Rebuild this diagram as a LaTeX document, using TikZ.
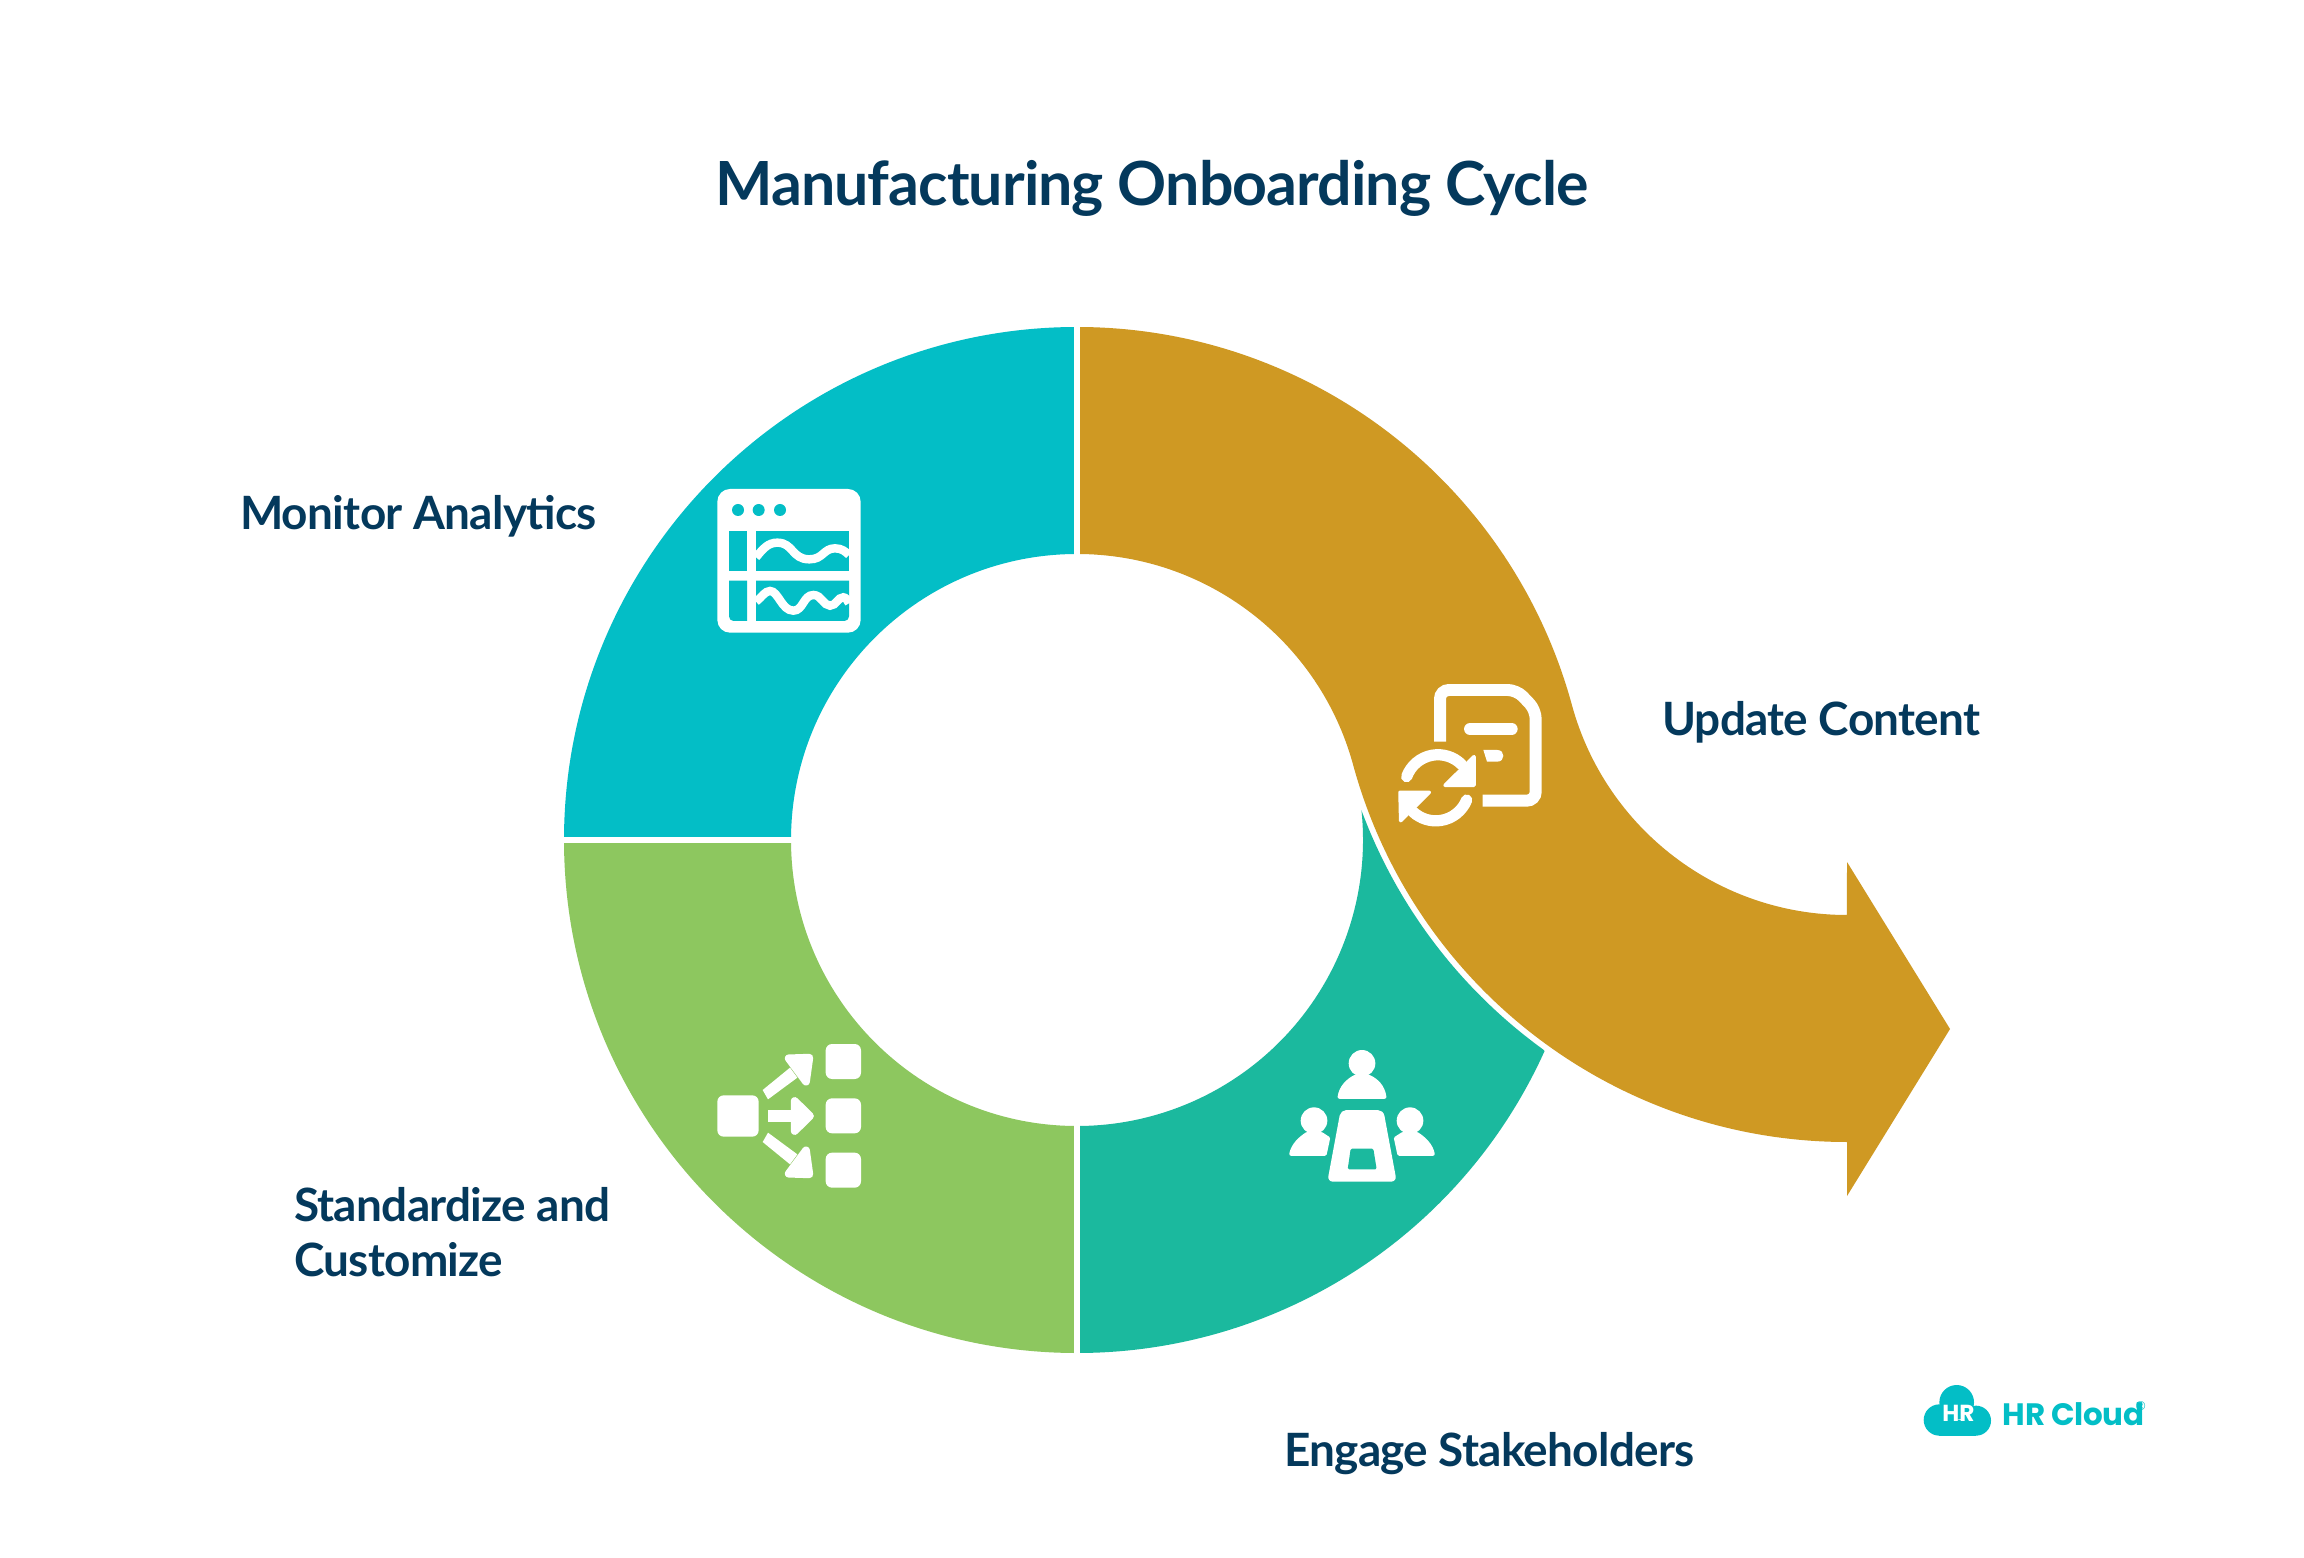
\documentclass[tikz,border=0pt]{standalone}
\usepackage{fontspec}
\setmainfont{Lato}
\newfontfamily\logofont{Poppins}
\usetikzlibrary{positioning}
\definecolor{cyanseg}{HTML}{03BEC6}
\definecolor{greenseg}{HTML}{8DC75F}
\definecolor{tealseg}{HTML}{1BB99E}
\definecolor{goldseg}{HTML}{CF9923}
\definecolor{inktext}{HTML}{04395C}

\begin{document}
\begin{tikzpicture}[
        x=0.01cm,y=0.01cm,
        every node/.style={inner sep=0pt,outer sep=0pt},
        seglabel/.style={anchor=base west,text=inktext,font=\fontsize{13.05}{15.4}\selectfont\bfseries\addfontfeature{LetterSpace=-1.5},align=left},
        segtitle/.style={anchor=base,text=inktext,font=\fontsize{17.3}{20}\selectfont\bfseries\addfontfeature{LetterSpace=-1.5}},
        gapline/.style={draw=white,line width=1.5pt},
        glyph/.style={fill=white,draw=white,line width=1pt,line join=round},
        tiphead/.style={fill=white,draw=white,line width=2.2pt,line join=round},
        glyphline/.style={draw=white,line width=2.4pt},
        glyphpos/.style={shift={#1},scale=1/3,yscale=-1}
        ]

        \fill[white] (0,0) rectangle (2304,1557);

        \coordinate (hub) at (1077,717);
        \coordinate (bend) at (1847,927);

        \node[segtitle] (title) at (1152,1351) {Manufacturing Onboarding Cycle};

        \fill[cyanseg]  ([shift={(90:513)}]hub) arc[start angle=90,end angle=180,radius=513]
        -- ([shift={(180:286)}]hub) arc[start angle=180,end angle=90,radius=286] -- cycle;
        \fill[greenseg] ([shift={(180:513)}]hub) arc[start angle=180,end angle=270,radius=513]
        -- ([shift={(270:286)}]hub) arc[start angle=270,end angle=180,radius=286] -- cycle;
        \fill[tealseg]  ([shift={(270:286)}]hub) arc[start angle=270,end angle=366,radius=286]
        -- ([shift={(200.4:518)}]bend) arc[start angle=200.4,end angle=234.1,radius=518]
        -- ([shift={(-24.3:513)}]hub) arc[start angle=-24.3,end angle=-90,radius=513] -- cycle;
        \fill[goldseg]  ([shift={(90:513)}]hub) arc[start angle=90,end angle=15.26,radius=513]
        arc[start angle=195.26,end angle=270,radius=285]
        -- (1847,695) -- (1950,528) -- (1847,361) -- (1847,415)
        arc[start angle=270,end angle=195.26,radius=512]
        arc[start angle=15.26,end angle=90,radius=286] -- cycle;

        \draw[gapline] ([shift={(90:280)}]hub) -- ([shift={(90:520)}]hub);
        \draw[gapline] ([shift={(180:280)}]hub) -- ([shift={(180:520)}]hub);
        \draw[gapline] ([shift={(270:280)}]hub) -- ([shift={(270:520)}]hub);

        \node[seglabel] (analytics) at (240,1027) {Monitor Analytics};
        \node[seglabel] (content) at (1662,821) {Update Content};
        \node[seglabel] (standard) at (294,281) {Standardize and\\Customize};
        \node[seglabel] (engage) at (1284,91) {Engage Stakeholders};

        \begin{scope}[glyphpos={(680,1097)}]
                \fill[white,rounded corners=3.6pt] (112,87) rectangle (542,518);
                \foreach \dotx in {174,236,300}
                \fill[cyanseg] (\dotx,150) circle[radius=18];
                \fill[cyanseg] (147,213) rectangle (201,333);
                \fill[cyanseg] (228,213) rectangle (507,333);
                \fill[cyanseg] (201,362) -- (201,483) [rounded corners=1.3pt] -- (147,483) [sharp corners] -- (147,362) -- cycle;
                \fill[cyanseg] (228,362) -- (228,483) [rounded corners=1.3pt] -- (507,483) [sharp corners] -- (507,362) -- cycle;
                \draw[glyphline] (228,292) .. controls (250,265) and (265,248) .. (292,248)
                .. controls (340,248) and (335,298) .. (388,298)
                .. controls (430,298) and (430,265) .. (465,265)
                .. controls (485,265) and (497,275) .. (507,285);
                \draw[glyphline] (228,425) .. controls (245,412) and (255,393) .. (270,393)
                .. controls (295,393) and (305,452) .. (340,452)
                .. controls (370,452) and (370,405) .. (400,405)
                .. controls (425,405) and (430,437) .. (450,437)
                .. controls (470,437) and (472,412) .. (490,412)
                .. controls (498,412) and (503,422) .. (507,430);
        \end{scope}

        \begin{scope}[glyphpos={(1360,897)}]
                \draw[glyphline,line width=3.4pt,rounded corners=2.5pt] (240,245) -- (240,90) -- (470,90) -- (527,150) -- (527,422) -- (368,422);
                \draw[glyphline,line width=3.4pt,line cap=round] (330,207) -- (455,207);
                \fill[white] (370,270) -- (412,270) .. controls (436,270) and (436,305) .. (412,305) -- (381,305) -- cycle;
                \draw[glyphline,line width=3.2pt,line cap=round] (140,350) arc[start angle=200,end angle=315,radius=100];
                \draw[glyphline,line width=3.2pt,line cap=round] (320,420) arc[start angle=22,end angle=133,radius=100];
                \fill[glyph] (342,290) -- (342,376) -- (255,376) -- cycle;
                \fill[glyph] (120,397) -- (208,397) -- (122,482) -- cycle;
        \end{scope}

        \begin{scope}[glyphpos={(690,537)}]
                \fill[white,rounded corners=1.8pt] (82,226) rectangle (206,350);
                \foreach \boxy in {72,235,398}
                \fill[white,rounded corners=1.8pt] (407,\boxy) rectangle (513,\boxy+105);
                \fill[tiphead] (296,115) -- (358,113) -- (348,185) -- cycle;
                \fill[white] (218,210) -- (300,143) -- (322,173) -- (234,238) -- cycle;
                \fill[tiphead] (314,243) -- (360,288) -- (314,333) -- cycle;
                \fill[white] (235,271) rectangle (315,306);
                \fill[tiphead] (296,461) -- (358,463) -- (348,391) -- cycle;
                \fill[white] (218,366) -- (300,433) -- (322,403) -- (234,338) -- cycle;
        \end{scope}

        \begin{scope}[glyphpos={(1270,527)}]
                \fill[white] (276,100) circle[radius=40];
                \fill[glyph] (208,201) .. controls (212,170) and (235,150) .. (255,140) -- (297,140) .. controls (320,150) and (340,170) .. (344,201) -- cycle;
                \fill[white] (132,272) circle[radius=40];
                \fill[glyph] (63,372) .. controls (68,345) and (90,325) .. (110,312) -- (155,312) -- (175,325) -- (165,372) -- cycle;
                \fill[white] (420,272) circle[radius=40];
                \fill[glyph] (489,372) .. controls (484,345) and (462,325) .. (442,312) -- (397,312) -- (377,325) -- (387,372) -- cycle;
                \fill[white,rounded corners=1.6pt] (212,240) -- (340,240) -- (380,455) -- (172,455) -- cycle;
                \fill[tealseg,rounded corners=0.4pt] (242,356) -- (310,356) -- (320,418) -- (233,418) -- cycle;
        \end{scope}

        \begin{scope}[glyphpos={(1900,187)}]
                \fill[cyanseg] (118,150) rectangle (228,197);
                \fill[cyanseg] (170,97) circle[radius=52];
                \fill[cyanseg] (118,150) circle[radius=47];
                \fill[cyanseg] (228,152) circle[radius=45];
                \node[text=white,font=\logofont\bfseries\fontsize{6.6}{8}\selectfont] (cloudtag) at (175,130) {HR};
                \node[text=cyanseg,anchor=base west,font=\logofont\bfseries\fontsize{8.8}{9}\selectfont\addfontfeature{LetterSpace=-1}] (brand) at (308,165) {HR Cloud};
                \node[text=cyanseg,font=\fontsize{3.5}{4}\selectfont] (regmark) at (722,107) {®};
        \end{scope}
      \end{tikzpicture}
\end{document}
